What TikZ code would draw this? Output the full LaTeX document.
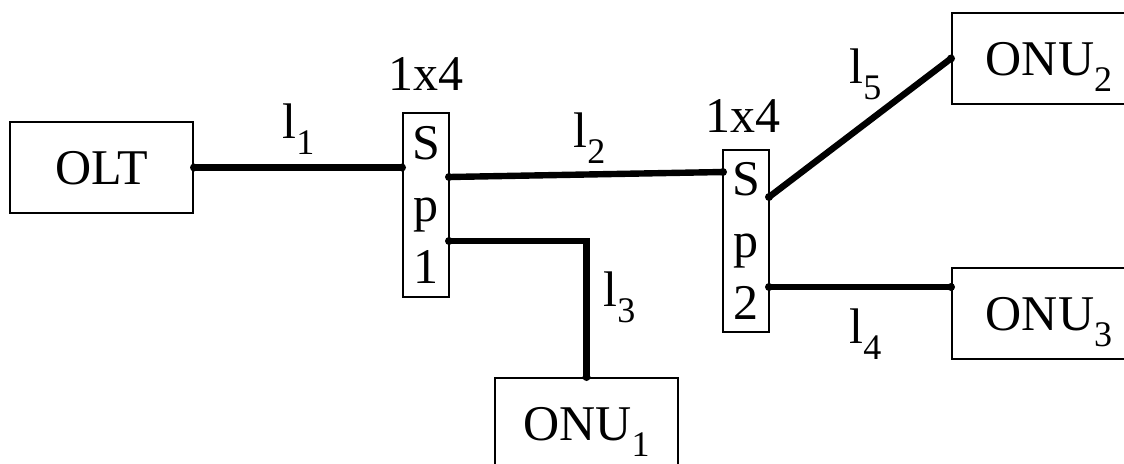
\documentclass[tikz,border=0pt]{standalone}
\usepackage{fontspec}
\setmainfont{Liberation Serif}

\newcommand{\dsub}[1]{\raisebox{-8pt}{\fontsize{18}{18}\selectfont #1}}

\begin{document}
\begin{tikzpicture}[x=0.5pt, y=-0.5pt,
  every node/.style={font=\fontsize{25}{31}\selectfont},
  unit/.style={draw, line width=1pt, minimum width=91.5pt, minimum height=45.5pt, text depth=0pt},
  splitter/.style={draw, line width=1pt, inner sep=0pt, align=center, minimum width=23pt, minimum height=92pt, text depth=0pt},
  fiber/.style={line width=3.2pt, line cap=round},
  lbl/.style={anchor=base west, inner sep=0pt}]

% Keep the picture area fixed
\clip (0,0) rectangle (1124,463);

% Line terminal and network units
\node[unit] (olt) at (101.5,167.5) {OLT};
\node[unit] (onu1) at (586.5,423.5) {ONU\dsub{1}};
\node[unit, minimum width=97pt] (onu2) at (1049,58.5) {ONU\dsub{2}};
\node[unit, minimum width=97pt] (onu3) at (1049,313.5) {ONU\dsub{3}};

% Splitters
\node[splitter] (sp1) at (426,205) {S\\p\\1};
\node[splitter, minimum height=91pt] (sp2) at (746,241) {S\\p\\2};
\node[anchor=base] (sp1type) at (426,90) {1x4};
\node[anchor=base] (sp2type) at (743,132) {1x4};

% Ports on the splitters
\coordinate (s1in) at (olt.east -| sp1.west);
\coordinate (s1out1) at (449,177);
\coordinate (s1out2) at (449,241);
\coordinate (s2in) at (723,172);
\coordinate (s2out1) at (769,197);
\coordinate (s2out2) at (769,287);
\coordinate (onu3in) at (s2out2 -| onu3.west);

% Fibers
\draw[fiber] (olt.east) -- (s1in);
\draw[fiber] (s1out1) -- (s2in);
\draw[fiber] (s1out2) -| (onu1.north);
\draw[fiber] (s2out1) -- (onu2.west);
\draw[fiber] (s2out2) -- (onu3in);

\foreach \p in {olt.east, s1in, s1out1, s1out2, s2in, s2out1, s2out2, onu1.north, onu2.west, onu3in} {
    \fill (\p) circle (2pt);
}

% Fiber lengths
\node[lbl] (l1) at (282,138) {l\dsub{1}};
\node[lbl] (l2) at (573,147) {l\dsub{2}};
\node[lbl] (l3) at (603,306) {l\dsub{3}};
\node[lbl] (l4) at (849,343) {l\dsub{4}};
\node[lbl] (l5) at (849,83) {l\dsub{5}};

\end{tikzpicture}
\end{document}
